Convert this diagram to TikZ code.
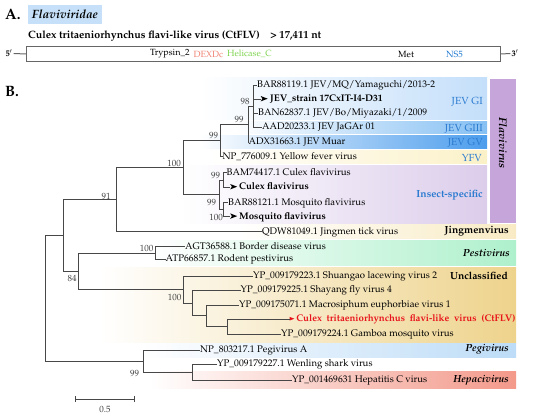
\documentclass[tikz,border=0pt]{standalone}
\usepackage[T1]{fontenc}
\usepackage{mathpazo}
\definecolor{gi}{HTML}{C4DFFA}
\definecolor{giii}{HTML}{86C0F3}
\definecolor{gv}{HTML}{4C9DED}
\definecolor{yfv}{HTML}{FBF1C8}
\definecolor{insect}{HTML}{DCCDEB}
\definecolor{flav}{HTML}{C6A5DA}
\definecolor{jing}{HTML}{F8EBC4}
\definecolor{pesti}{HTML}{AEF0CC}
\definecolor{uncl}{HTML}{EED38C}
\definecolor{pegi}{HTML}{BDDCF7}
\definecolor{hepa}{HTML}{F3998A}
\definecolor{famblue}{HTML}{C5E0F8}
\definecolor{lblblue}{HTML}{2B7BD0}
\definecolor{ctred}{HTML}{E8141B}
\definecolor{dexd}{HTML}{F08272}
\definecolor{heli}{HTML}{7ED44E}
\definecolor{nsblue}{HTML}{1E78D0}
\newcommand{\arr}{\tikz[x=1pt,y=1pt,baseline=0pt]{\fill[black] (0,0.3) -- (7,3) -- (0,5.7) -- (1.7,3) -- cycle;}}
\newcommand{\redarr}{\tikz[x=1pt,y=1pt,baseline=0pt]{\fill[ctred] (0,1.2) -- (4.6,3) -- (0,4.8) -- cycle;}}
\begin{document}
\begin{tikzpicture}[x=1pt,y=-1pt,
  br/.style={draw=black!72, line width=0.75pt},
  leaf/.style={anchor=west, inner sep=0pt, font=\fontsize{9.6}{11}\selectfont, text height=6.8pt, text depth=2pt},
  bs/.style={inner sep=0pt, font=\fontsize{9}{10}\selectfont, text=black!75},
  grp/.style={anchor=east, inner sep=0pt, font=\fontsize{10.3}{11}\selectfont\bfseries},
  grpb/.style={anchor=east, inner sep=0pt, font=\fontsize{10.3}{11}\selectfont, text=lblblue},
  dom/.style={anchor=west, inner sep=0pt, font=\fontsize{9}{10}\selectfont},
  head/.style={anchor=west, inner sep=0pt, font=\fontsize{15}{16}\selectfont\bfseries}]
\useasboundingbox (0,0) rectangle (550,420);

% ---------- Part A ----------
\node[head] (A) at (5,14) {A.};
\node[fill=famblue, minimum width=74pt, minimum height=19pt, inner sep=0pt,
      font=\fontsize{12}{13}\selectfont\bfseries\itshape] (fam) at (65,14.5) {Flaviviridae};
\node[anchor=west, inner sep=0pt, font=\fontsize{10.6}{12}\selectfont\bfseries] (title) at (28,36)
  {Culex tritaeniorhynchus flavi-like virus (CtFLV)\quad\textgreater\ 17,411 nt};
\node[draw=black!60, line width=1pt, fill=white, minimum width=474pt, minimum height=15pt,
      inner sep=0pt, anchor=north west] (gen) at (26,46) {};
\node[inner sep=1pt, font=\fontsize{8.5}{9}\selectfont\bfseries] (p5) at (9,53.5) {5$'$};
\node[inner sep=1pt, font=\fontsize{8.5}{9}\selectfont\bfseries] (p3) at (515,53.5) {3$'$};
\draw[black!60, line width=1pt] (p5.east) -- (gen.west);
\draw[black!60, line width=1pt] (gen.east) -- (p3.west);
\node[dom] (d1) at (150,54) {Trypsin\_2};
\node[dom, text=dexd] (d2) at (193.5,54) {DEXDc};
\node[dom, text=heli] (d3) at (227,54) {Helicase\_C};
\node[dom] (d4) at (398,54.5) {Met};
\node[dom, text=nsblue] (d5) at (446,54.5) {NS5};

% ---------- Part B ----------
\node[head] (B) at (5,92) {B.};

% bands
\shade[left color=white, right color=gi] (200,78) rectangle (487,120);
\shade[left color=white, right color=giii] (235,121.5) rectangle (487,133.5);
\shade[left color=white, right color=gv] (200,135.5) rectangle (487,148.5);
\shade[left color=white, right color=yfv] (210,150.5) rectangle (487,163.5);
\shade[left color=white, right color=insect] (180,165.5) rectangle (487,224);
\fill[flav] (489.5,79) rectangle (516,223);
\shade[left color=white, right color=jing] (240,225) rectangle (516,239);
\shade[left color=white, right color=pesti] (150,240.5) rectangle (516,265.5);
\shade[left color=white, right color=uncl] (100,267) rectangle (516,342);
\shade[left color=white, right color=pegi] (140,343) rectangle (516,357);
\shade[left color=white, right color=hepa] (150,371.5) rectangle (516,388);

% group labels
\node[grpb] (gGI) at (483,102) {JEV GI};
\node[grpb] (gGIII) at (483,128.5) {JEV GIII};
\node[grpb] (gGV) at (483,142.5) {JEV GV};
\node[grpb] (gYFV) at (482,157.5) {YFV};
\node[grp, text=lblblue] (gIns) at (483,195) {Insect-specific};
\node[inner sep=0pt, rotate=-90, font=\fontsize{11}{12}\selectfont\bfseries\itshape] (gFla) at (503,143) {Flavivirus};
\node[grp] (gJin) at (509,231.5) {Jingmenvirus};
\node[grp, font=\fontsize{10.3}{11}\selectfont\bfseries\itshape] (gPes) at (510,253) {Pestivirus};
\node[grp] (gUnc) at (508,275.5) {Unclassified};
\node[grp, font=\fontsize{10.3}{11}\selectfont\bfseries\itshape] (gPeg) at (509,349.5) {Pegivirus};
\node[grp, font=\fontsize{10.3}{11}\selectfont\bfseries\itshape] (gHep) at (509,380) {Hepacivirus};

% internal nodes
\coordinate (nGI) at (253,106.15);
\coordinate (nJ) at (248,124.1);
\coordinate (nJY) at (220.5,140.4);
\coordinate (nI1) at (223,180);
\coordinate (nI2) at (223,209.7);
\coordinate (nI) at (219,194.85);
\coordinate (n100) at (183,167.6);
\coordinate (n91) at (116,199.65);
\coordinate (nP) at (155,253);
\coordinate (nU4) at (227,326.65);
\coordinate (nU3) at (206,315.8);
\coordinate (nU2) at (192,302.9);
\coordinate (nU1) at (183,289.45);
\coordinate (n84) at (78,271.2);
\coordinate (n63) at (63,235.4);
\coordinate (nW) at (192,372);
\coordinate (nPg) at (143,361);
\coordinate (nR) at (45,298.2);

% leaves
\node[leaf] (L1) at (257,85) {BAR88119.1 JEV/MQ/Yamaguchi/2013-2};
\node[leaf] (L2) at (260.5,99.3) {\arr\hspace{2.5pt}\textbf{JEV\_strain 17CxIT-I4-D31}};
\node[leaf] (L3) at (258,113.3) {BAN62837.1 JEV/Bo/Miyazaki/1/2009};
\node[leaf] (L4) at (262,127.3) {AAD20233.1 JEV JaGAr 01};
\node[leaf] (L5) at (248.5,142) {ADX31663.1 JEV Muar};
\node[leaf] (L6) at (222.5,156.7) {NP\_776009.1 Yellow fever virus};
\node[leaf] (L7) at (226.5,172.7) {BAM74417.1 Culex flavivirus};
\node[leaf] (L8) at (230,187.3) {\arr\hspace{2pt}\textbf{Culex flavivirus}};
\node[leaf] (L9) at (228,202.7) {BAR88121.1 Mosquito flavivirus};
\node[leaf] (L10) at (230,216.7) {\arr\hspace{2pt}\textbf{Mosquito flavivirus}};
\node[leaf] (L11) at (262,231.7) {QDW81049.1 Jingmen tick virus};
\node[leaf] (L12) at (185,246.7) {AGT36588.1 Border disease virus};
\node[leaf] (L13) at (165.5,259.3) {ATP66857.1 Rodent pestivirus};
\node[leaf] (L14) at (253,276) {YP\_009179223.1 Shuangao lacewing virus 2};
\node[leaf] (L15) at (240.5,290) {YP\_009179225.1 Shayang fly virus 4};
\node[leaf] (L16) at (239,305) {YP\_009175071.1 Macrosiphum euphorbiae virus 1};
\node[leaf] (L17) at (289.5,319.3) {\redarr\hspace{2pt}\textcolor{ctred}{\bfseries Culex\ \ tritaeniorhynchus\ \ flavi-like\ \ virus\ \ (CtFLV)}};
\node[leaf] (L18) at (281,334) {YP\_009179224.1 Gamboa mosquito virus};
\node[leaf] (L19) at (200,350) {NP\_803217.1 Pegivirus A};
\node[leaf] (L20) at (217,364) {YP\_009179227.1 Wenling shark virus};
\node[leaf] (L21) at (292,380) {YP\_001469631 Hepatitis C virus};

% branches
\draw[br] (nGI) |- (L1.west);
\draw[br] (nGI) |- (L2.west);
\draw[br] (nGI) |- (L3.west);
\draw[br] (nGI) |- (L4.west);
\draw[br] (nJ) |- (nGI);
\draw[br] (nJ) |- (L5.west);
\draw[br] (nJY) |- (nJ);
\draw[br] (nJY) |- (L6.west);
\draw[br] (nI1) |- (L7.west);
\draw[br] (nI1) |- (L8.west);
\draw[br] (nI2) |- (L9.west);
\draw[br] (nI2) |- (L10.west);
\draw[br] (nI) |- (nI1);
\draw[br] (nI) |- (nI2);
\draw[br] (n100) |- (nJY);
\draw[br] (n100) |- (nI);
\draw[br] (n91) |- (n100);
\draw[br] (n91) |- (L11.west);
\draw[br] (nP) |- (L12.west);
\draw[br] (nP) |- (L13.west);
\draw[br] (nU4) |- (L17.west);
\draw[br] (nU4) |- (L18.west);
\draw[br] (nU3) |- (L16.west);
\draw[br] (nU3) |- (nU4);
\draw[br] (nU2) |- (L15.west);
\draw[br] (nU2) |- (nU3);
\draw[br] (nU1) |- (L14.west);
\draw[br] (nU1) |- (nU2);
\draw[br] (n84) |- (nP);
\draw[br] (n84) |- (nU1);
\draw[br] (n63) |- (n91);
\draw[br] (n63) |- (n84);
\draw[br] (nW) |- (L20.west);
\draw[br] (nW) |- (L21.west);
\draw[br] (nPg) |- (L19.west);
\draw[br] (nPg) |- (nW);
\draw[br] (nR) |- (n63);
\draw[br] (nR) |- (nPg);

% bootstrap values
\node[bs] (b98) at (245,101.5) {98};
\node[bs] (b99a) at (239,119.5) {99};
\node[bs] (b99b) at (213.5,135.5) {99};
\node[bs] (b100a) at (174,163) {100};
\node[bs] (b99c) at (215.5,175.5) {99};
\node[bs] (b99d) at (211.5,202.5) {99};
\node[bs] (b100b) at (216,217.5) {100};
\node[bs] (b91) at (106,196) {91};
\node[bs] (b100c) at (146.5,248) {100};
\node[bs] (b84) at (72,278) {84};
\node[bs] (b100d) at (174.5,297) {100};
\node[bs] (b99e) at (134.5,373) {99};

% scale bar
\coordinate (s1) at (75,399);
\coordinate (s2) at (134,399);
\draw[br] (s1) -- (s2);
\draw[br] (s1) ++(0,-3) -- ++(0,6);
\draw[br] (s2) ++(0,-3) -- ++(0,6);
\node[bs] (sl) at (105,409) {0.5};
\end{tikzpicture}
\end{document}
